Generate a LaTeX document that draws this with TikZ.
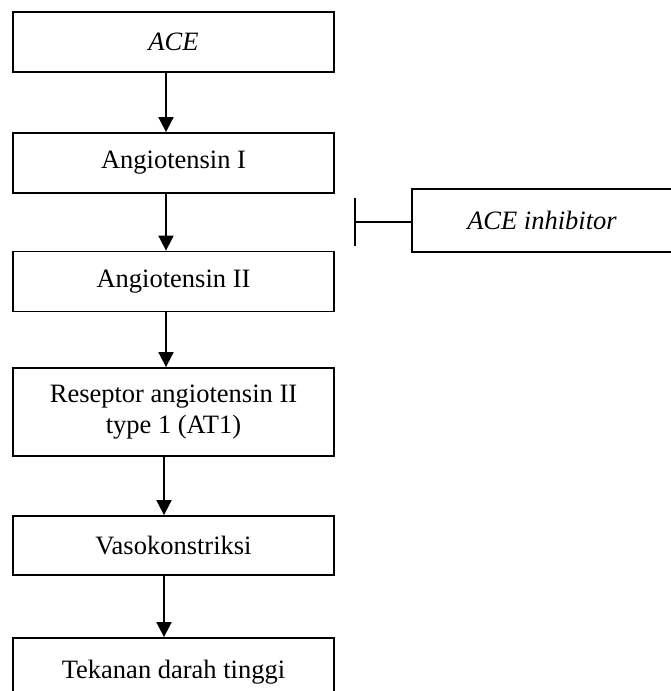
\documentclass[tikz,border=0pt]{standalone}
\usepackage{fontspec}
\setmainfont{Liberation Serif}
\usetikzlibrary{arrows.meta}
\begin{document}
\begin{tikzpicture}[x=1pt,y=-1pt,
  box/.style={draw,line width=1.8pt,minimum width=321pt,minimum height=60pt,inner sep=0pt,align=center,font=\fontsize{26.5}{31}\selectfont},
  conn/.style={line width=1.8pt,-{Triangle[width=15pt,length=15pt]}}]
\useasboundingbox (0,0) rectangle (670,691);
\node[box] (ace) at (173.5,42) {\itshape ACE};
\node[box] (a1) at (173.5,163) {Angiotensin I};
\node[box] (a2) at (173.5,281.5) {Angiotensin II};
\node[box,minimum height=88pt] (rec) at (173.5,412) {Reseptor angiotensin II\\type 1 (AT1)};
\node[box,minimum height=59pt] (vaso) at (173.5,545.5) {Vasokonstriksi};
\node[box,minimum height=68pt] (tek) at (173.5,672) {Tekanan darah tinggi};
\node[box,minimum width=260pt,minimum height=63pt] (inh) at (542,220.5) {\itshape ACE inhibitor};
\coordinate (ax) at (166,0);
\coordinate (bx) at (164,0);
\coordinate (bar) at (354,222);
\draw[conn] (ace.south -| ax) -- (a1.north -| ax);
\draw[conn] (a1.south -| ax) -- (a2.north -| ax);
\draw[conn] (a2.south -| ax) -- (rec.north -| ax);
\draw[conn] (rec.south -| bx) -- (vaso.north -| bx);
\draw[conn] (vaso.south -| bx) -- (tek.north -| bx);
\draw[line width=1.8pt,-{Bar[width=48pt]}] (inh.west |- bar) -- (bar);
\end{tikzpicture}
\end{document}
